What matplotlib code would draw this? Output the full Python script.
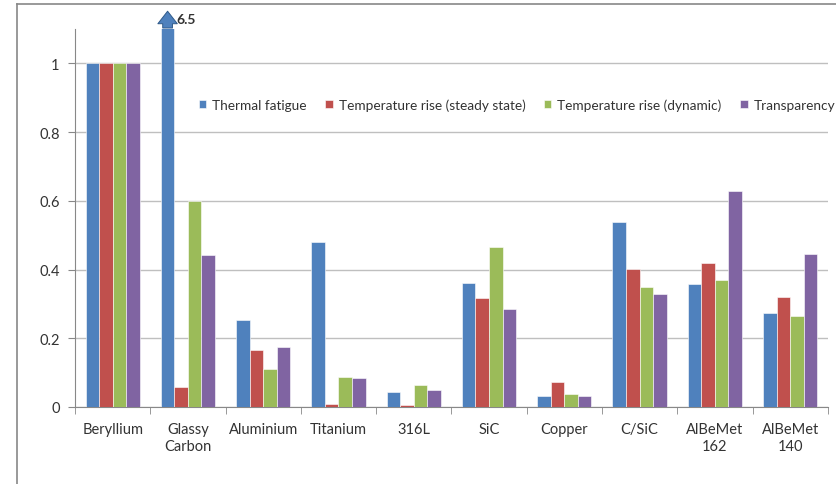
import numpy as np
import matplotlib
matplotlib.use("Agg")
import matplotlib.pyplot as plt
from matplotlib.lines import Line2D

plt.rcParams['font.family'] = ['Lato', 'DejaVu Sans']

materials = ["Beryllium", "Glassy\nCarbon", "Aluminium", "Titanium", "316L",
             "SiC", "Copper", "C/SiC", "AlBeMet\n162", "AlBeMet\n140"]

thermal_fatigue = [1.0, 6.5, 0.253, 0.48, 0.045, 0.36, 0.033, 0.539, 0.358, 0.275]
temp_steady     = [1.0, 0.058, 0.167, 0.01, 0.007, 0.318, 0.072, 0.402, 0.418, 0.319]
temp_dynamic    = [1.0, 0.60, 0.11, 0.088, 0.063, 0.466, 0.037, 0.348, 0.371, 0.264]
transparency    = [1.0, 0.443, 0.175, 0.085, 0.048, 0.284, 0.032, 0.33, 0.63, 0.444]

series = ["Thermal fatigue", "Temperature rise (steady state)",
          "Temperature rise (dynamic)", "Transparency"]
colors = ["#4F81BD", "#C0504D", "#9BBB59", "#8064A2"]

fig = plt.figure(figsize=(8.37, 4.85), dpi=100)
ax = fig.add_axes([0.0896, 0.1588, 0.8994, 0.7792])

x = np.arange(len(materials))
w = 0.18
for i, (vals, name, c) in enumerate(zip(
        [thermal_fatigue, temp_steady, temp_dynamic, transparency], series, colors)):
    ax.bar(x + (i - 1.5) * w, vals, width=w, color=c, label=name,
           edgecolor="white", linewidth=0.4, zorder=3)

ax.set_ylim(0, 1.1)
ax.set_xlim(-0.5, len(materials) - 0.5)
ax.set_yticks([0, 0.2, 0.4, 0.6, 0.8, 1.0])
ax.set_yticklabels(["0", "0.2", "0.4", "0.6", "0.8", "1"])
ax.yaxis.grid(True, color="#BFBFBF", linewidth=1.0, zorder=0)
ax.set_axisbelow(True)

ax.set_xticks(x)
ax.set_xticklabels(materials, fontsize=10.5, color="#333333", linespacing=1.25)
ax.set_xticks(np.arange(-0.5, len(materials)), minor=True)
ax.tick_params(axis="x", which="major", length=0, pad=11)
ax.tick_params(axis="x", which="minor", length=5, color="#888888")
ax.tick_params(axis="y", length=5, color="#888888", labelsize=10.5,
               labelcolor="#333333", pad=6)

for s in ["top", "right"]:
    ax.spines[s].set_visible(False)
for s in ["left", "bottom"]:
    ax.spines[s].set_color("#888888")

# off-scale arrow for Glassy Carbon thermal fatigue
gx = x[1] - 1.5 * w
ax.annotate("", xy=(gx, 1.16), xytext=(gx, 1.095),
            arrowprops=dict(arrowstyle="simple,head_width=1.4,head_length=0.9,tail_width=0.7",
                            fc=colors[0], ec="#2F5A8A", lw=0.7),
            annotation_clip=False)
ax.text(gx + 0.12, 1.13, f"{thermal_fatigue[1]}", fontsize=10,
        fontweight="bold", color="#333333", va="center", ha="left", clip_on=False)

ax.legend(loc="center left", bbox_to_anchor=(0.157, 0.80), ncol=4, frameon=False,
          fontsize=9.8, handlelength=0.55, handleheight=0.55, handletextpad=0.45,
          columnspacing=1.35, labelcolor="#333333", borderaxespad=0)

# chart area border
fig.add_artist(Line2D([17 / 837, 17 / 837], [0, 1 - 5 / 485],
                      transform=fig.transFigure, color="#888888", lw=1.2))
fig.add_artist(Line2D([17 / 837, 1], [1 - 5 / 485, 1 - 5 / 485],
                      transform=fig.transFigure, color="#888888", lw=1.2))

fig.savefig("out.png", dpi=100)
